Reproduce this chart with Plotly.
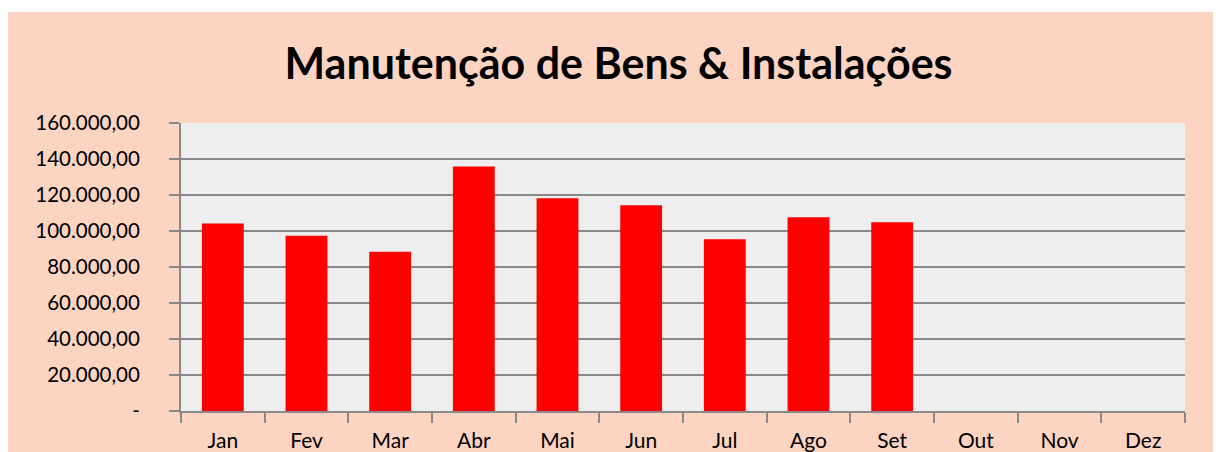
import plotly.graph_objects as go

months = ["Jan", "Fev", "Mar", "Abr", "Mai", "Jun", "Jul", "Ago", "Set", "Out", "Nov", "Dez"]
values = [104100, 97400, 88500, 135900, 118200, 114300, 95400, 107600, 104800, None, None, None]
tick_vals = [0, 20000, 40000, 60000, 80000, 100000, 120000, 140000, 160000]
tick_text = ["-", "20.000,00", "40.000,00", "60.000,00", "80.000,00",
             "100.000,00", "120.000,00", "140.000,00", "160.000,00"]
title_text = "Manutenção de Bens & Instalações"

# page body has an 8px margin; figure coordinates = reference pixels - 8
OFF = 8
W, H = 1221 - OFF, 452 - OFF
L, R, T, B = 181 - OFF, 1221 - 1185, 123 - OFF, 452 - 411
pw, ph = W - L - R, H - T - B

def px_y(py):
    return (H - B - (py - OFF)) / ph

PEACH = "#FCD4C1"
GRID = "#898989"

fig = go.Figure(go.Bar(x=months, y=values, marker=dict(color="#FF0000", line=dict(width=0))))

fig.update_layout(
    width=W, height=H,
    margin=dict(l=L, r=R, t=T, b=B, pad=0, autoexpand=False),
    paper_bgcolor=PEACH,
    plot_bgcolor="#EEEEEE",
    bargap=0.5,
    showlegend=False,
    font=dict(family="Lato", size=21, color="#000000"),
    title=dict(text="<b>" + title_text + "</b>", x=(618.5 - OFF) / W, xanchor="center",
               y=1 - (64 - OFF) / H, yanchor="middle", yref="container",
               font=dict(family="Lato", size=43, color="#000000")),
    shapes=[
        dict(type="rect", xref="paper", yref="paper", x0=-0.5, x1=1.5,
             y0=px_y(12), y1=px_y(-40), fillcolor="#FFFFFF", line=dict(width=0), layer="below"),
    ],
)

fig.update_xaxes(
    type="category", range=[-0.5, 11.5], automargin=False,
    showgrid=False, showline=True, linecolor=GRID, linewidth=2,
    ticks="outside", tickson="boundaries", ticklen=10, tickwidth=2, tickcolor=GRID,
    ticklabelstandoff=10,
    tickfont=dict(family="Lato", size=21, color="#000000"),
)
fig.update_yaxes(
    range=[0, 160000], tickvals=tick_vals, ticktext=tick_text, automargin=False,
    showgrid=True, gridcolor=GRID, gridwidth=2,
    showline=True, linecolor=GRID, linewidth=2,
    ticks="outside", ticklen=10, tickwidth=2, tickcolor=GRID,
    ticklabelstandoff=25, zeroline=False,
    tickfont=dict(family="Lato", size=20.5, color="#000000"),
)

fig.write_html("out.html")
